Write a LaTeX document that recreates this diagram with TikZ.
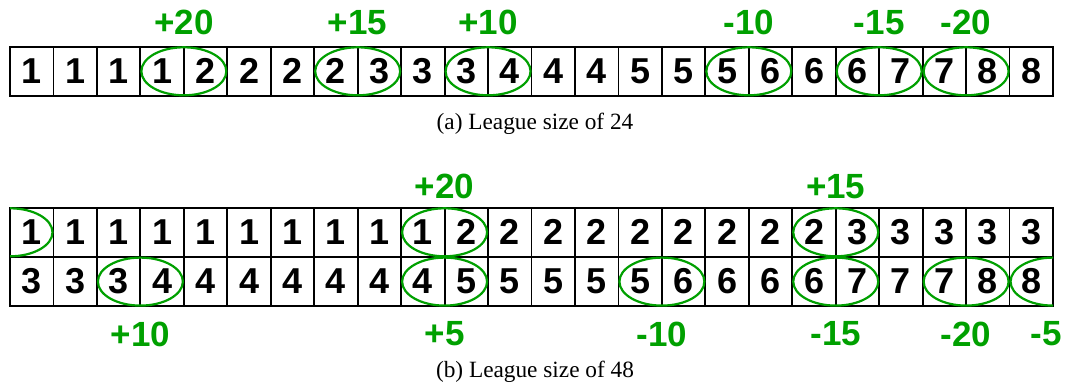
\documentclass[tikz,border=0pt]{standalone}
\usepackage{fontspec}
\setmainfont{Liberation Serif}
\setsansfont{Liberation Sans}
\usetikzlibrary{shapes.geometric}

\definecolor{pairgreen}{RGB}{0,160,0}

\begin{document}
\begin{tikzpicture}[x=1pt,y=-1pt,font=\sffamily\bfseries\fontsize{36}{36}\selectfont,cell/.style={draw, line width=1.8pt, minimum width=43.46pt, minimum height=49.3pt, inner sep=0pt, outer sep=0pt},pair/.style={ellipse, draw=pairgreen, line width=2.2pt, minimum width=85pt, minimum height=48pt, inner sep=0pt},gain/.style={text=pairgreen, font=\sffamily\bfseries\fontsize{35}{35}\selectfont},caption/.style={anchor=base, font=\rmfamily\fontsize{23.3}{25}\selectfont}]
\useasboundingbox (0,0) rectangle (1065,385);
% (a) league of 24
\foreach \v [count=\i] in {1,1,1,1,2,2,2,2,3,3,3,4,4,4,5,5,5,6,6,6,7,7,8,8}
  \node[cell] (a\i) at ({10+(\i-0.5)*43.46},71.3) {\v};
\foreach \b/\t [count=\k] in {4/+20,8/+15,11/+10,17/-10,20/-15,22/-20}{
  \node[pair] (ra\k) at (a\b.east) {};
  \node[gain] (ga\k) at ([yshift=24pt]a\b.north east) {\t};
}
\node[caption] (capa) at (535,129.5) {(a) League size of 24};
% (b) league of 48, two rows
\foreach \v [count=\i] in {1,1,1,1,1,1,1,1,1,1,2,2,2,2,2,2,2,2,2,3,3,3,3,3}
  \node[cell] (b\i) at ({10+(\i-0.5)*43.46},232.3) {\v};
\foreach \v [count=\i] in {3,3,3,4,4,4,4,4,4,4,5,5,5,5,5,6,6,6,6,7,7,7,8,8}
  \node[cell] (c\i) at ({10+(\i-0.5)*43.46},281.6) {\v};
\begin{scope}
\clip (10,0) rectangle (1053,385);
\node[pair] (rb0) at (b1.west) {};
\foreach \b in {10,19}
  \node[pair] (rb\b) at (b\b.east) {};
\foreach \b in {3,10,15,19,22,24}
  \node[pair] (rc\b) at (c\b.east) {};
\end{scope}
\node[gain] (gb1) at ([yshift=21pt]b10.north east) {+20};
\node[gain] (gb2) at ([yshift=21pt]b19.north east) {+15};
\foreach \b/\t in {3/+10,10/+5,15/-10,19/-15,22/-20}
  \node[gain] (gc\b) at ([yshift=-27.7pt]c\b.south east) {\t};
\node[gain] (gc24) at ([yshift=-27.7pt,xshift=-7pt]c24.south east) {-5};
\node[caption] (capb) at (535,377) {(b) League size of 48};
\end{tikzpicture}
\end{document}
